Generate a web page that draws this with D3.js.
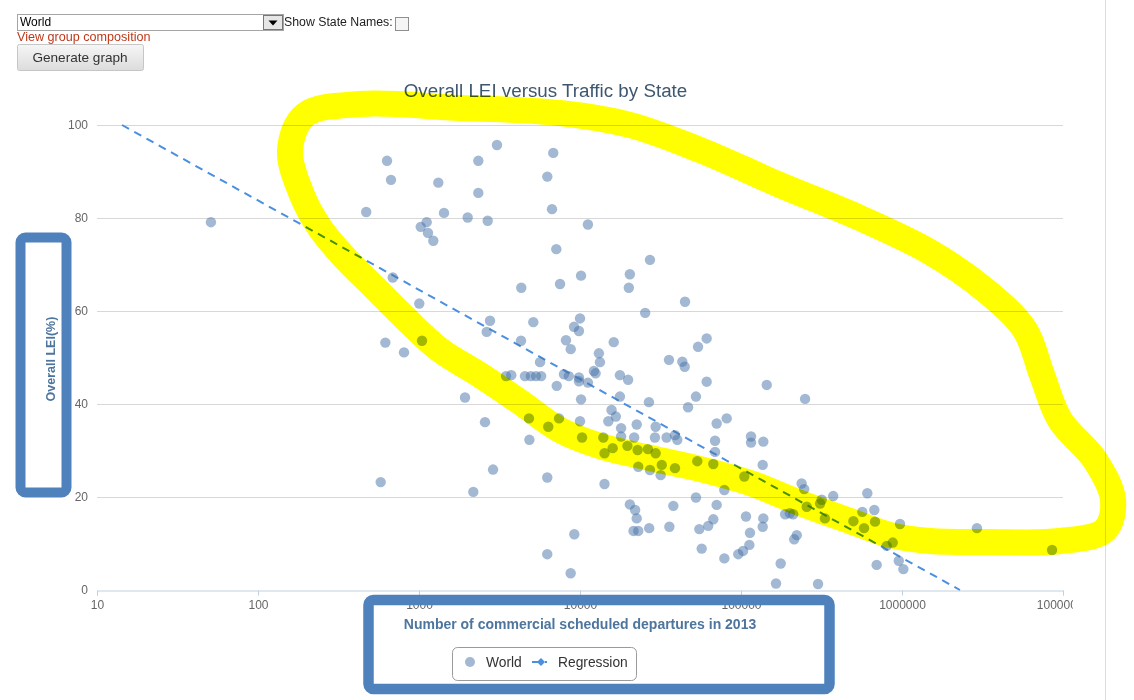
<!DOCTYPE html>
<html><head><meta charset="utf-8">
<script src="https://cdn.jsdelivr.net/npm/d3@7"></script>
<style>
body{margin:0;background:#fff;}
svg{display:block;font-family:"Liberation Sans",Arial,sans-serif;}
</style>
</head><body>
<svg id="c" width="1134" height="700"></svg>
<script>
// ---- data ----
const departures = [51,470,633,670,687,618,807,578,1004,1025,1044,1116,1137,1227,1318,1430,2006,2336,2336,2671,3050,1931,2175,2570,2760,2633,2884,
6823,6266,6700,7125,4318,7516,5129,4300,8185,8755,5645,3470,3743,4550,4950,5330,5740,7950,8520,9850,9850,7170,4820,6350,7410,4850,6260,9220,6260,8750,9180,
11200,10150,20400,20100,27200,25400,10000,9850,16200,13100,13300,12200,12500,17700,19900,11200,17700,10150,15700,16700,15000,18000,22500,10000,10300,13960,15960,19700,21700,22800,14200,18000,26400,29500,26800,29500,29200,14200,20400,22000,22500,21500,23000,23000,27200,31700,26900,32200,
44900,61200,54100,35700,43200,44700,61200,144500,250000,52500,46900,70600,81500,34500,38900,40200,69000,115400,115400,137600,69000,38900,53500,67300,104800,136400,78800,38000,52500,70600,35900,55100,62600,67300,57000,78800,96200,103000,112700,107400,137600,136400,113700,165000,176400,
238000,247000,317000,374000,609000,567000,673000,201000,256000,310000,332000,499000,581000,680000,876000,804000,188000,211000,972000,222000,214000,301000,696000,955000,1020000,2920000,8550000];
const lei = [79.1,81.3,92.3,88.2,67.2,53.2,51.1,23.2,61.6,78.1,53.6,79.1,76.8,75.1,87.6,81.1,80.1,85.4,92.3,79.4,95.7,41.4,21.1,36.1,57.9,55.5,25.9,
94.0,88.9,81.9,73.3,65.0,65.8,57.6,53.6,53.7,51.8,49.0,46.0,46.2,46.0,46.0,46.0,46.0,46.4,46.0,45.7,44.9,43.9,36.9,35.1,36.9,32.3,24.2,12.0,7.7,3.6,56.6,
78.6,67.6,67.9,65.0,71.0,59.6,58.4,55.7,53.3,50.9,49.0,47.1,46.6,46.2,45.2,44.6,41.6,41.0,38.7,37.3,36.3,34.8,35.6,36.3,32.8,32.8,30.5,31.0,32.8,30.1,29.4,33.0,30.3,29.4,40.4,35.1,32.8,22.8,18.4,17.2,15.4,12.7,12.7,26.5,25.8,24.7,13.3,26.9,
62.0,54.1,52.3,49.5,49.1,48.0,44.8,44.1,41.1,41.6,39.3,35.8,36.9,32.8,33.3,32.3,32.1,33.0,31.7,31.9,29.7,26.2,27.7,27.1,24.4,26.9,21.5,18.1,19.9,18.3,13.6,13.1,13.8,15.2,8.9,6.8,7.7,8.4,9.7,15.8,15.4,13.6,12.3,1.4,5.7,
22.9,21.7,19.4,20.2,20.8,16.8,17.2,16.5,17.9,18.6,15.4,14.8,13.3,14.7,10.2,9.5,16.3,16.3,14.2,11.8,10.9,1.3,5.4,6.3,4.5,13.3,8.6];
const yTicks = [0,20,40,60,80,100];
const xTicks = [10,100,1000,10000,100000,1000000,10000000];
const xTickLabels = ["10","100","1000","10000","100000","1000000","10000000"];
const regressionX = [14.3, 2290000];
const regressionY = [100, 0];
const seriesNames = ["World","Regression"];

// hand-drawn annotation (pixel space)
const highlighterPath = [[290,150],[305,115],[360,104],[460,108],[560,113],[630,125],[700,150],[780,185],[860,218],[930,252],[985,290],[1025,330],[1042,375],[1060,420],[1095,460],[1113,500],[1105,530],[1060,541],[990,542],[930,541],[890,535],[850,521],[800,503],[750,483],[700,469],[650,458],[600,446],[560,430],[520,402],[480,375],[440,350],[405,318],[375,288],[345,258],[320,228],[302,195]];

const svg = d3.select("#c");
const x = d3.scaleLog().domain([10,1e7]).range([97,1063]);
const y = d3.scaleLinear().domain([0,100]).range([590,125]);

// page border line
svg.append("line").attr("x1",1105.5).attr("x2",1105.5).attr("y1",0).attr("y2",700).attr("stroke","#dcdcdc");

// ---- controls ----
const ctl = svg.append("g");
ctl.append("rect").attr("x",17.5).attr("y",14.5).attr("width",266).attr("height",16).attr("fill","#fff").attr("stroke","#a5a5a5");
ctl.append("rect").attr("x",263.5).attr("y",15.5).attr("width",19).attr("height",14).attr("fill","#e6e6e6").attr("stroke","#777");
ctl.append("path").attr("d","M268.5,20.5 L277.5,20.5 L273,25.5 Z").attr("fill","#000");
ctl.append("text").attr("x",20).attr("y",26).attr("font-size",12).attr("fill","#000").text("World");
ctl.append("text").attr("x",284).attr("y",26).attr("font-size",12.3).attr("fill","#222").text("Show State Names:");
ctl.append("rect").attr("x",395.5).attr("y",17.5).attr("width",13).attr("height",13).attr("fill","#f5f5f5").attr("stroke","#8f8f8f");
ctl.append("text").attr("x",17).attr("y",41).attr("font-size",12.6).attr("fill","#c0381a").text("View group composition");
const grad = svg.append("defs").append("linearGradient").attr("id","btn").attr("x1",0).attr("x2",0).attr("y1",0).attr("y2",1);
grad.append("stop").attr("offset","0").attr("stop-color","#f6f6f6");
grad.append("stop").attr("offset","1").attr("stop-color","#dcdcdc");
ctl.append("rect").attr("x",17.5).attr("y",44.5).attr("width",126).attr("height",26).attr("rx",2).attr("fill","url(#btn)").attr("stroke","#c6c6c6");
ctl.append("text").attr("x",80).attr("y",61.5).attr("text-anchor","middle").attr("font-size",13.6).attr("fill","#333").text("Generate graph");

// ---- chart ----
svg.append("defs").append("clipPath").attr("id","chartclip").append("rect").attr("x",0).attr("y",0).attr("width",1073).attr("height",700);
const chart = svg.append("g").attr("clip-path","url(#chartclip)");

chart.append("text").attr("x",545.5).attr("y",97).attr("text-anchor","middle").attr("font-size",18.8).attr("fill","#3E576F").text("Overall LEI versus Traffic by State");

// grid
chart.selectAll("line.grid").data(yTicks.filter(d=>d>0)).join("line").attr("class","grid")
  .attr("x1",97).attr("x2",1063).attr("y1",d=>Math.round(y(d))+0.5).attr("y2",d=>Math.round(y(d))+0.5)
  .attr("stroke","#d8d8d8");
// y labels
chart.selectAll("text.yl").data(yTicks).join("text").attr("class","yl")
  .attr("x",88).attr("y",d=>y(d)+4).attr("text-anchor","end").attr("font-size",12).attr("fill","#666").text(d=>d);

// x axis
const xAxis = d3.axisBottom(x).tickValues(xTicks).tickFormat((d,i)=>xTickLabels[i]).tickSize(5).tickPadding(5);
const gx = chart.append("g").attr("transform","translate(0,590.5)").call(xAxis);
gx.select(".domain").attr("stroke","#C0D0E0");
gx.selectAll(".tick line").attr("stroke","#C0D0E0");
gx.selectAll(".tick text").attr("font-size",12).attr("fill","#666").attr("font-family","Liberation Sans, Arial, sans-serif");

// axis titles
chart.append("text").attr("x",580).attr("y",629).attr("text-anchor","middle").attr("font-size",14).attr("font-weight","bold").attr("fill","#4d759e").text("Number of commercial scheduled departures in 2013");
chart.append("text").attr("transform","translate(55,359) rotate(-90)").attr("text-anchor","middle").attr("font-size",12.5).attr("font-weight","bold").attr("fill","#4d759e").text("Overall LEI(%)");

// regression
const reg = regressionX.map((d,i)=>[d,regressionY[i]]);
chart.append("path").attr("d",d3.line().x(d=>x(d[0])).y(d=>y(d[1]))(reg))
  .attr("fill","none").attr("stroke","#4a8fe0").attr("stroke-width",2).attr("stroke-dasharray","8,6");

// points
const pts = departures.map((d,i)=>({x:d,y:lei[i]}));
chart.selectAll("circle.pt").data(pts).join("circle").attr("class","pt")
  .attr("cx",d=>x(d.x)).attr("cy",d=>y(d.y)).attr("r",5.2)
  .attr("fill","#4572A7").attr("fill-opacity",0.5);

// legend
const lg = svg.append("g");
lg.append("rect").attr("x",452.5).attr("y",647.5).attr("width",184).attr("height",33).attr("rx",5).attr("fill","#fff").attr("stroke","#9a9a9a");
lg.append("circle").attr("cx",470).attr("cy",662).attr("r",5).attr("fill","#4572A7").attr("fill-opacity",0.5);
lg.append("text").attr("x",486).attr("y",667).attr("font-size",13.8).attr("fill","#333").text(seriesNames[0]);
lg.append("line").attr("x1",532).attr("x2",551).attr("y1",662).attr("y2",662).attr("stroke","#4a8fe0").attr("stroke-width",2).attr("stroke-dasharray","9,4,2,4");
lg.append("path").attr("d","M541,658 L545,662 L541,666 L537,662 Z").attr("fill","#4a8fe0");
lg.append("text").attr("x",558).attr("y",667).attr("font-size",13.8).attr("fill","#333").text(seriesNames[1]);

// ---- annotations ----
svg.append("path").attr("d",d3.line().curve(d3.curveCatmullRomClosed)(highlighterPath))
  .attr("fill","none").attr("stroke","#ffff00").attr("stroke-width",26).attr("stroke-linejoin","round")
  .style("mix-blend-mode","multiply");
svg.append("rect").attr("x",20.5).attr("y",237.5).attr("width",46).attr("height",255).attr("rx",5)
  .attr("fill","none").attr("stroke","#4F81BD").attr("stroke-width",10);
svg.append("rect").attr("x",368.5).attr("y",600).attr("width",461).attr("height",89).attr("rx",5)
  .attr("fill","none").attr("stroke","#4F81BD").attr("stroke-width",10.5);
</script>
</body></html>
